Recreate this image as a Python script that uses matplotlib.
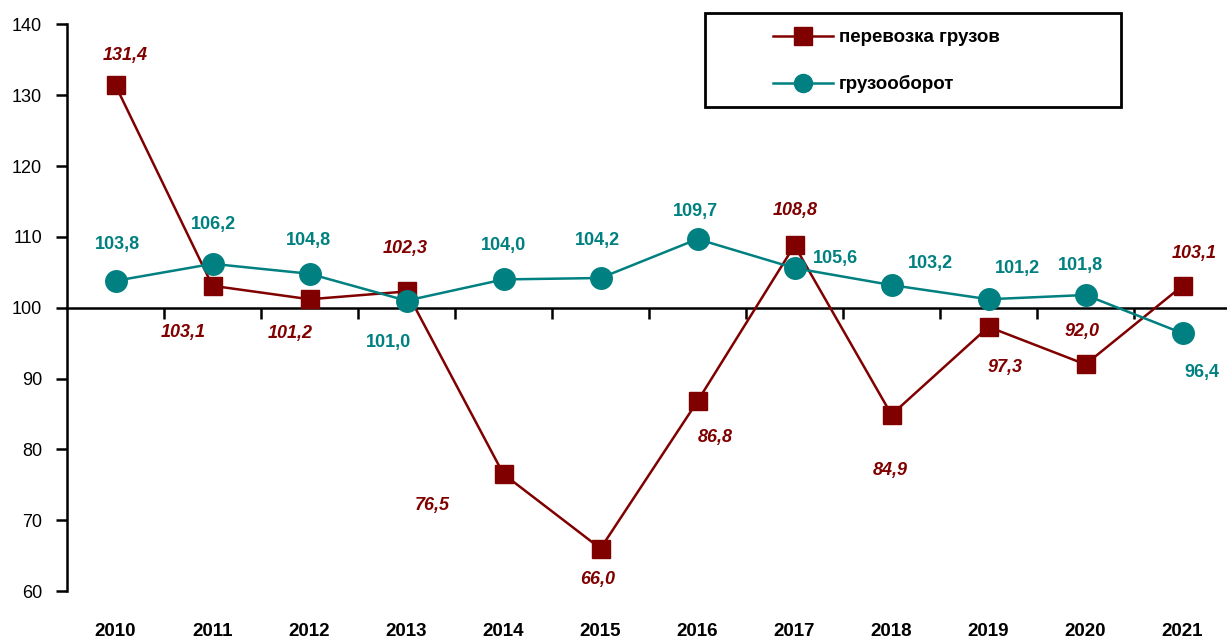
import matplotlib.pyplot as plt
from matplotlib.patches import Rectangle
from matplotlib.transforms import blended_transform_factory

plt.rcParams['font.family'] = ['Liberation Sans', 'DejaVu Sans']

# data
years = ['2010', '2011', '2012', '2013', '2014', '2015',
         '2016', '2017', '2018', '2019', '2020', '2021']
cargo = [131.4, 103.1, 101.2, 102.3, 76.5, 66.0, 86.8, 108.8, 84.9, 97.3, 92.0, 103.1]
turnover = [103.8, 106.2, 104.8, 101.0, 104.0, 104.2, 109.7, 105.6, 103.2, 101.2, 101.8, 96.4]
series_names = ['перевозка грузов', 'грузооборот']

# label offsets in pixels (dx, dy) from the marker
cargo_off = [(10, 30), (-29, -47), (-19, -34), (-1, 43), (-71, -31), (-3, -31),
             (18, -36), (1, 35), (-1, -56), (17, -41), (-3, 33), (12, 32)]
turn_off = [(2, 36), (1, 39), (-1, 33), (-18, -42), (0, 34), (-3, 38),
            (-2, 28), (41, 10), (39, 22), (29, 31), (-5, 30), (19, -39)]

dark_red = '#800000'
teal = '#008080'

fig = plt.figure(figsize=(12.27, 6.42), dpi=100)
ax = fig.add_axes([67 / 1227, 51 / 642, 1164 / 1227, 566.5 / 642])

x = list(range(len(years)))
ax.plot(x, cargo, color=dark_red, lw=1.8, marker='s', ms=13.5,
        mfc=dark_red, mec=dark_red, label=series_names[0], zorder=3)
ax.plot(x, turnover, color=teal, lw=1.8, marker='o', ms=15.5,
        mfc=teal, mec=teal, label=series_names[1], zorder=4)

ax.set_xlim(-0.5, len(years) - 0.5)
ax.set_ylim(60, 140)
ax.set_yticks(range(60, 141, 10))
ax.tick_params(axis='y', direction='out', length=8, width=1.8, labelsize=13, pad=10)

ax.spines['top'].set_visible(False)
ax.spines['right'].set_visible(False)
ax.spines['left'].set_linewidth(1.8)
ax.spines['bottom'].set_position(('data', 100))
ax.spines['bottom'].set_linewidth(1.8)
ax.set_xticks([i + 0.5 for i in x[:-1]])
ax.tick_params(axis='x', direction='out', length=8, width=1.8, labelbottom=False)

trans = blended_transform_factory(ax.transData, ax.transAxes)
for i, yr in enumerate(years):
    ax.text(i, -0.072, yr, transform=trans, ha='center', va='center',
            fontsize=13.5, fontweight='bold', color='black')

for i, v in enumerate(cargo):
    ax.annotate(f'{v:.1f}'.replace('.', ','), (i, v), xytext=cargo_off[i],
                textcoords='offset pixels', ha='center', va='center',
                fontsize=13, fontweight='bold', fontstyle='italic', color=dark_red)
for i, v in enumerate(turnover):
    ax.annotate(f'{v:.1f}'.replace('.', ','), (i, v), xytext=turn_off[i],
                textcoords='offset pixels', ha='center', va='center',
                fontsize=13, fontweight='bold', color=teal)

# legend box
fig.patches.append(Rectangle((705 / 1227, 1 - 107 / 642), 416 / 1227, 94 / 642,
                             transform=fig.transFigure, fill=False,
                             edgecolor='black', lw=2, zorder=5))
leg = fig.legend(loc='upper left', bbox_to_anchor=(773 / 1227, 1 - 29 / 642),
                 frameon=False, handlelength=3.2, handletextpad=0.3,
                 labelspacing=1.55, borderpad=0, borderaxespad=0,
                 prop={'size': 13.5, 'weight': 'bold'})
for h in leg.legend_handles:
    h.set_markersize(13)

fig.savefig('out.png', dpi=100)
